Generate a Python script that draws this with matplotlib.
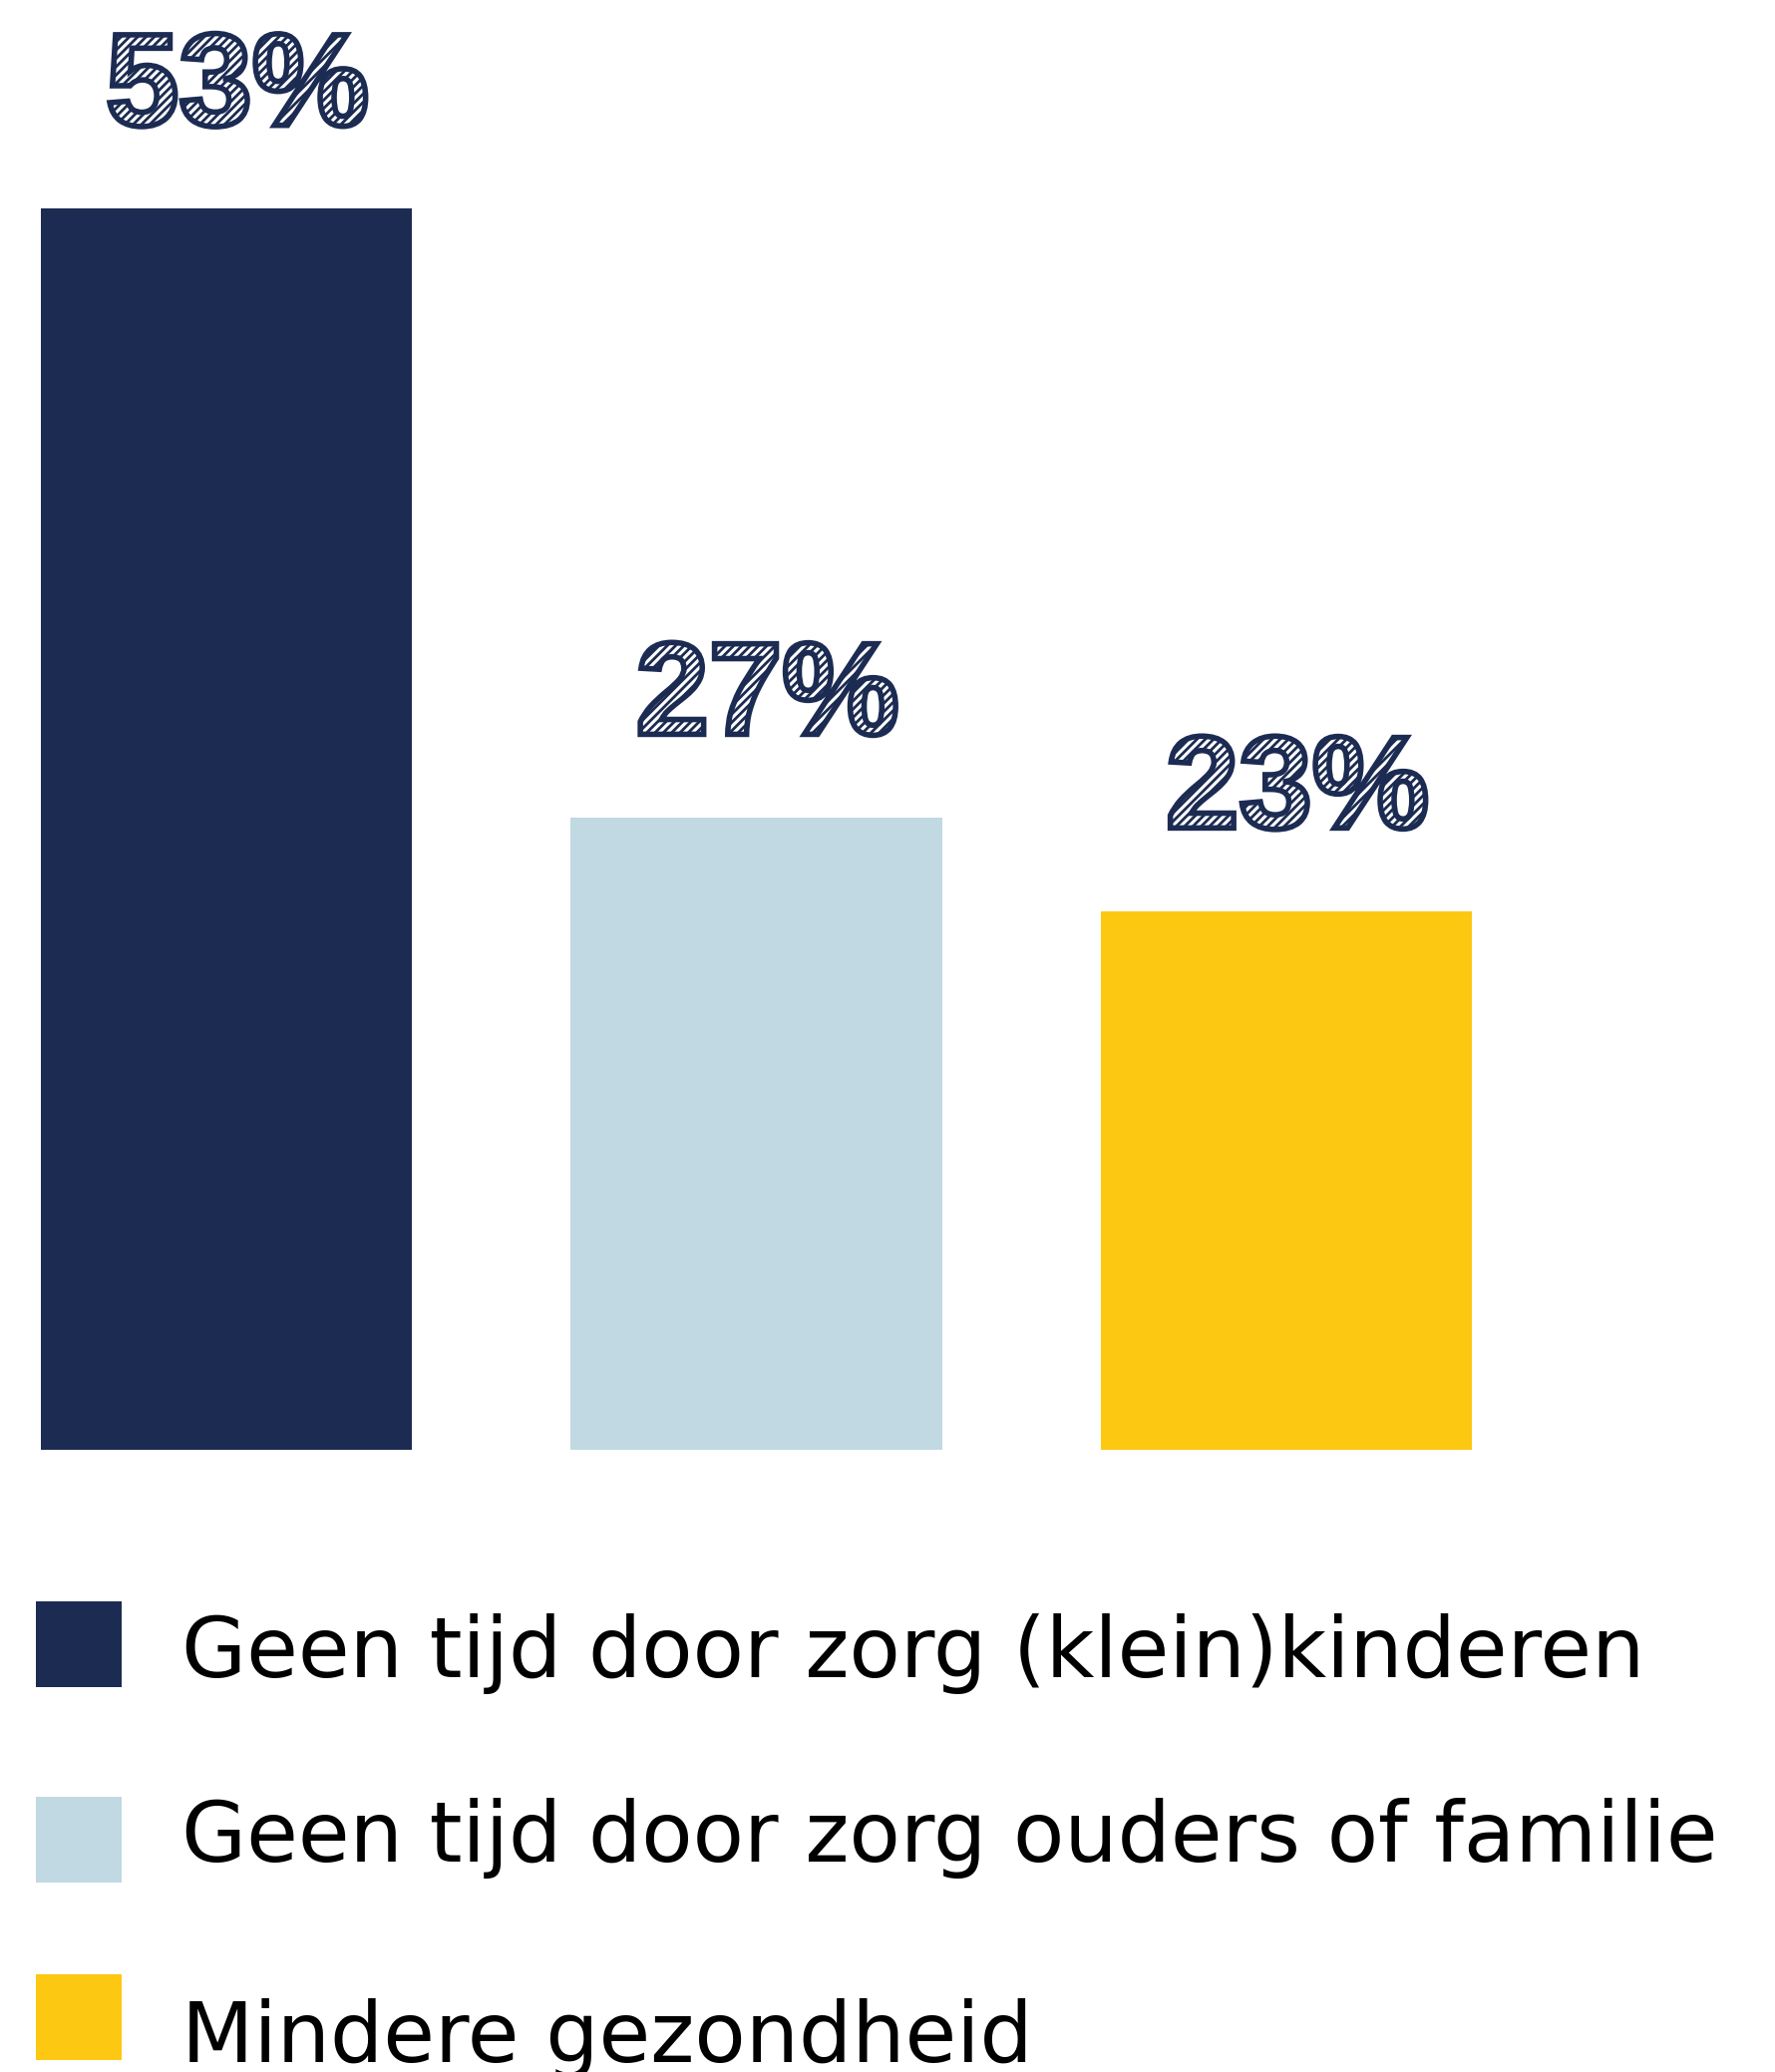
import matplotlib
matplotlib.use("Agg")
import matplotlib.pyplot as plt
import matplotlib.patheffects as pe
from matplotlib.patches import Rectangle

categories = ["Geen tijd door zorg (klein)kinderen",
              "Geen tijd door zorg ouders of familie",
              "Mindere gezondheid"]
values = [53, 27, 23]
labels = ["53%", "27%", "23%"]
colors = ["#1c2b52", "#c0d9e2", "#fdc811"]
navy = "#1c2b52"

W, H = 1781, 2078
DPI = 100
fig = plt.figure(figsize=(W / DPI, H / DPI), dpi=DPI)
plt.rcParams['hatch.linewidth'] = 2.0

# bar axes: spans full width, from top of figure to bar baseline (y=1454 px)
base_px = 1454
ax = fig.add_axes([0, (H - base_px) / H, 1, base_px / H])
px_per_unit_x = 531.5
c0 = 227
ax.set_xlim(-c0 / px_per_unit_x, (W - c0) / px_per_unit_x)
px_per_val = (base_px - 209) / 53
ax.set_ylim(0, base_px / px_per_val)
ax.axis("off")

xs = list(range(len(values)))
ax.bar(xs, values, width=0.70, color=colors)

for x, v, lab in zip(xs, values, labels):
    t = ax.annotate(lab, (x, v), xytext=(8, 60), textcoords="offset points",
                    ha="center", va="baseline", fontsize=95,
                    family="Liberation Sans", fontweight="bold", color=navy)
    t.set_path_effects([pe.PathPatchEffect(edgecolor=navy, facecolor="white",
                                           hatch="////", linewidth=4)])

# legend
lax = fig.add_axes([0, 0, 1, 1])
lax.set_xlim(0, W)
lax.set_ylim(H, 0)
lax.axis("off")
sq_tops = [1606, 1802, 1980]
baselines = [1682, 1867, 2068]
for i, (cat, col) in enumerate(zip(categories, colors)):
    lax.add_patch(Rectangle((36, sq_tops[i]), 86, 86, color=col, lw=0))
    lax.text(182, baselines[i], cat, fontsize=60.5, family="DejaVu Sans",
             va="baseline", ha="left", color="black")

fig.savefig("out.png", dpi=DPI)
